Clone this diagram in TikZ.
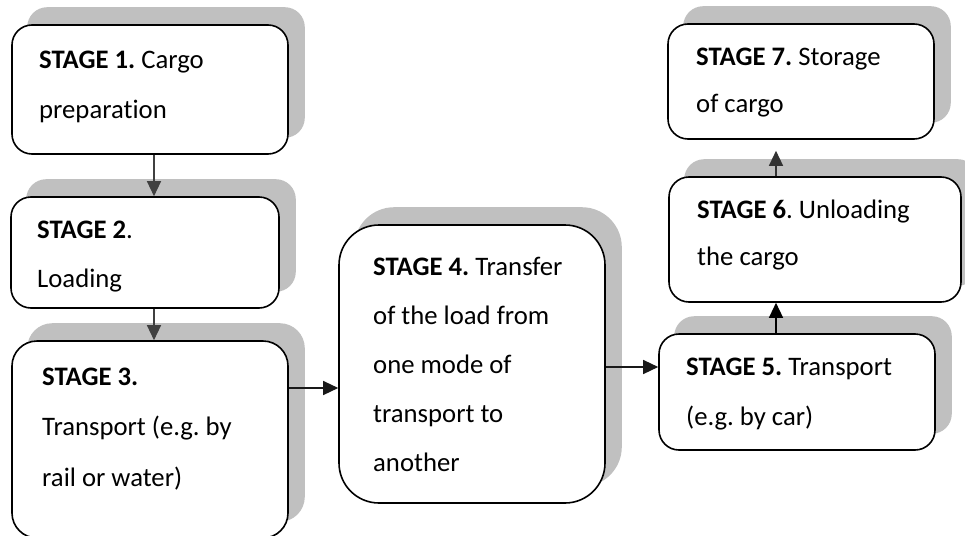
\documentclass[tikz,border=0pt]{standalone}
\usepackage{fontspec}
\setmainfont[Ligatures={NoCommon}]{Carlito}
\frenchspacing
\usetikzlibrary{arrows.meta,backgrounds}
\definecolor{shadowc}{HTML}{C0C0C0}
\definecolor{arrc}{HTML}{404040}
\tikzset{
  box/.style={draw=black, line width=1.6pt, fill=white, rounded corners=#1, inner sep=0pt},
  box/.default=20pt,
  txt/.style={anchor=base west, inner sep=0pt, align=left, text=black,
    font=\fontsize{26.7pt}{49pt}\selectfont},
  arr/.style={draw=arrc, line width=1.3pt, -{Triangle[length=15pt,width=14pt]}},
}
\newcommand{\shadowfor}[2]{%
  \begin{scope}[on background layer]
    \fill[shadowc, rounded corners=#2] ([shift={(16pt,17pt)}]#1.south west) rectangle ([shift={(16pt,17pt)}]#1.north east);
  \end{scope}}
\begin{document}
\begin{tikzpicture}[x=1pt,y=-1pt]
\clip (0,0) rectangle (965,535);
\useasboundingbox (0,0) rectangle (965,535);
% boxes
\node[box, minimum width=276pt, minimum height=129pt] (s1) at (150,89.5) {};
\node[box, minimum width=268pt, minimum height=111pt] (s2) at (145,252.5) {};
\node[box=25pt, minimum width=276pt, minimum height=197pt] (s3) at (150,439.5) {};
\node[box=40pt, minimum width=266pt, minimum height=278pt] (s4) at (472,364) {};
\node[box, minimum width=276pt, minimum height=116pt] (s5) at (797,392) {};
\node[box, minimum width=292pt, minimum height=125pt] (s6) at (815,239.5) {};
\node[box, minimum width=266pt, minimum height=115pt] (s7) at (801,81.5) {};
\shadowfor{s1}{20pt}
\shadowfor{s2}{20pt}
\shadowfor{s3}{25pt}
\shadowfor{s4}{40pt}
\shadowfor{s5}{20pt}
\shadowfor{s6}{20pt}
\shadowfor{s7}{20pt}
% texts (anchor = baseline of last line)
\node[txt, font=\fontsize{26.7pt}{50pt}\selectfont] (t1) at (39,118) {\textbf{STAGE 1.} Cargo\\preparation};
\node[txt] (t2) at (37,287) {\textbf{STAGE 2}.\\Loading};
\node[txt, font=\fontsize{26.7pt}{50.5pt}\selectfont] (t3) at (42,486) {\textbf{STAGE 3.}\\Transport (e.g. by\\rail or water)};
\node[txt] (t4) at (373,471) {\textbf{STAGE 4.} Transfer\\of the load from\\one mode of\\transport to\\another};
\node[txt, font=\fontsize{26.7pt}{50pt}\selectfont] (t5) at (686,425) {\textbf{STAGE 5.} Transport\\(e.g. by car)};
\node[txt, font=\fontsize{26.7pt}{47pt}\selectfont] (t6) at (697,265) {\textbf{STAGE 6}. Unloading\\the cargo};
\node[txt, font=\fontsize{26.7pt}{47pt}\selectfont] (t7) at (696,112) {\textbf{STAGE 7.} Storage\\of cargo};
% connectors
\draw[arr] ([xshift=4pt]s1.south) -- ([xshift=4pt]s1.south |- s2.north);
\draw[arr] ([xshift=9pt]s2.south) -- ([xshift=9pt]s2.south |- s3.north);
\draw[arr, draw=black!90] ([yshift=51.5pt]s3.east) coordinate (p34) -- (p34 -| s4.west);
\draw[arr, draw=black!90] ([yshift=-3pt]s4.east) coordinate (p45) -- (p45 -| s5.west);
\draw[arr, draw=black] ([xshift=-21pt]s5.north) coordinate (p56) -- (p56 |- s6.south);
\draw[arr, draw=black!80, shorten >=11pt] ([xshift=-39pt]s6.north) coordinate (p67) -- (p67 |- s7.south);
\end{tikzpicture}
\end{document}
